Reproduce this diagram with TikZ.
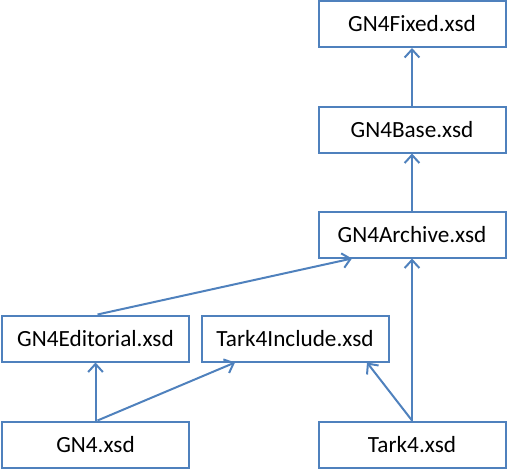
\documentclass[tikz,border=0pt]{standalone}
\usepackage{fontspec}
\setmainfont{Carlito}
\usetikzlibrary{arrows.meta}
\definecolor{officeblue}{RGB}{79,129,189}
\begin{document}
\begin{tikzpicture}[x=0.75pt,y=-0.75pt,
  filebox/.style={draw=officeblue,line width=1.5pt,fill=white,minimum width=187*0.75pt,minimum height=46*0.75pt,inner sep=0pt,font=\fontsize{17.4}{20}\selectfont},
  dep/.style={draw=officeblue,line width=1.5pt,-{Straight Barb[length=6pt,width=11pt,line width=1.5pt]}}]
\useasboundingbox (0,0) rectangle (508,471);
\node[filebox] (fixed) at (412,24) {GN4Fixed.xsd};
\node[filebox] (base) at (412,129.5) {GN4Base.xsd};
\node[filebox] (archive) at (412,234.5) {GN4Archive.xsd};
\node[filebox] (editorial) at (95.5,338.5) {GN4Editorial.xsd};
\node[filebox] (include) at (295,338.5) {Tark4Include.xsd};
\node[filebox] (gn4) at (95.5,444.5) {GN4.xsd};
\node[filebox] (tark4) at (412,444.5) {Tark4.xsd};
\draw[dep] (base.north) -- (fixed.south);
\draw[dep] (archive.north) -- (base.south);
\draw[dep] (tark4.north) -- (archive.south);
\draw[dep] ([xshift=1.5pt]editorial.north) -- ([xshift=-60*0.75pt]archive.south);
\draw[dep] (gn4.north) -- (editorial.south);
\draw[dep] ([xshift=1.5pt]gn4.north) -- ([xshift=-60*0.75pt]include.south);
\draw[dep] (tark4.north) -- ([xshift=72*0.75pt]include.south);
\end{tikzpicture}
\end{document}
